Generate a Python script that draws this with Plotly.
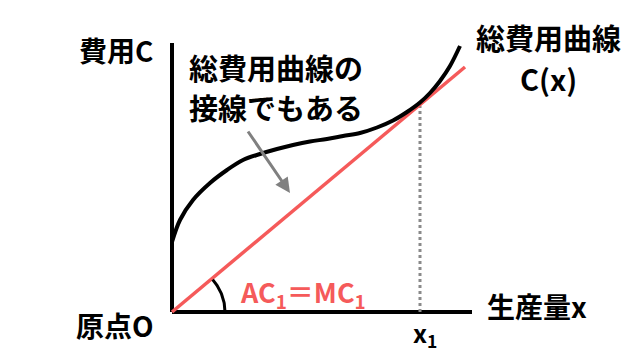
import numpy as np
import plotly.graph_objects as go

# Total cost curve C(x) (units arbitrary)
curve_x = [0, 8, 21, 38, 55, 71, 88, 105, 121, 138, 155, 171, 188, 205, 221, 235, 248, 258, 268, 278, 288]
curve_y = [70, 92, 112, 129, 142, 152, 158, 163, 167, 170.5, 173, 176, 179, 184.5, 191.5, 200, 209.5, 219, 231, 246, 266]

# Tangent line from origin (AC1 = MC1)
tan_x = [0, 293]
tan_y = [0, 245]

# Tangent point x1
x1 = 248
x1_cost = 206

axis_x_len = 300
axis_y_len = 269

RED = "#f55a5a"
FONT = "Noto Sans CJK JP"

fig = go.Figure()

# axes
fig.add_trace(go.Scatter(x=[0, axis_x_len], y=[0, 0], mode="lines",
                         line=dict(color="black", width=4), hoverinfo="skip"))
fig.add_trace(go.Scatter(x=[0, 0], y=[0, axis_y_len], mode="lines",
                         line=dict(color="black", width=4), hoverinfo="skip"))

# dotted vertical at x1
fig.add_trace(go.Scatter(x=[x1, x1], y=[0, x1_cost], mode="lines",
                         line=dict(color="#8a8a8a", width=3, dash="dot"), hoverinfo="skip"))

# tangent line
fig.add_trace(go.Scatter(x=tan_x, y=tan_y, mode="lines",
                         line=dict(color=RED, width=3.5), hoverinfo="skip"))

# cost curve
fig.add_trace(go.Scatter(x=curve_x, y=curve_y, mode="lines",
                         line=dict(color="black", width=4, shape="spline", smoothing=1.0),
                         hoverinfo="skip"))

# angle arc
ang = np.arctan2(tan_y[1], tan_x[1])
t = np.linspace(0, ang, 30)
r = 53
fig.add_trace(go.Scatter(x=r * np.cos(t), y=r * np.sin(t) * 0.95, mode="lines",
                         line=dict(color="black", width=3), hoverinfo="skip"))

def txt(x, y, s, size=28, color="black", xanchor="center"):
    fig.add_annotation(x=x, y=y, text=s, showarrow=False,
                       font=dict(family=FONT, size=size, color=color, weight="bold"),
                       xanchor=xanchor, yanchor="middle")

txt(-56, 262, "費用C")
txt(15, 245, "総費用曲線の", size=29, xanchor="left")
txt(15, 205, "接線でもある", size=29, xanchor="left")
txt(376, 275, "総費用曲線", size=29)
txt(376, 234, "C(x)", size=29)
txt(131, 19, "AC<sub>1</sub>＝MC<sub>1</sub>", size=27, color=RED)
txt(x1 + 5, -21, "x<sub>1</sub>", size=25)
txt(-57, -13, "原点O")
txt(365, 6, "生産量x")

# arrow
fig.add_annotation(x=118, y=119, ax=75, ay=182, xref="x", yref="y", axref="x", ayref="y",
                   showarrow=True, arrowhead=2, arrowsize=1, arrowwidth=3,
                   arrowcolor="#808080", text="")

fig.update_layout(
    width=640, height=360, margin=dict(l=0, r=0, t=0, b=0),
    paper_bgcolor="white", plot_bgcolor="white", showlegend=False,
    xaxis=dict(range=[-172, 468], visible=False, fixedrange=True),
    yaxis=dict(range=[-48, 312], visible=False, fixedrange=True),
)

fig.write_html("out.html")
